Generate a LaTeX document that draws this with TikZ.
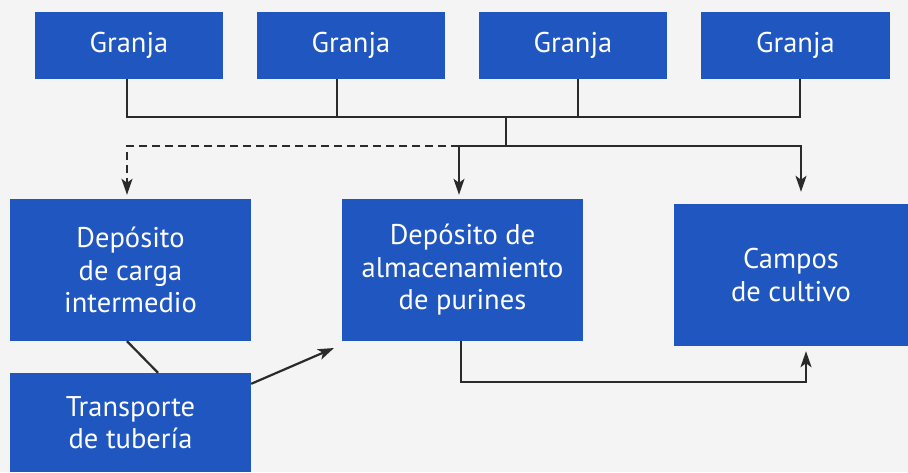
\documentclass[tikz,border=0pt]{standalone}
\usepackage{fontspec}
\setmainfont{PT Sans}
\usetikzlibrary{arrows.meta,calc}
\definecolor{bgc}{HTML}{F4F4F4}
\definecolor{boxblue}{HTML}{1F56C0}
\definecolor{lnc}{HTML}{2A2A2A}
\begin{document}
\begin{tikzpicture}[x=1pt,y=-1pt,
  box/.style 2 args={fill=boxblue, text=white, align=center, inner sep=0pt,
    minimum width=#1, minimum height=#2,
    font=\fontsize{28.5}{32.5}\selectfont},
  conn/.style={draw=lnc, line width=2.2pt},
  arr/.style={conn, -{Stealth[length=16pt,width=11pt,inset=4pt]}}]
\fill[bgc] (0,0) rectangle (908,472);
\useasboundingbox (0,0) rectangle (908,472);

\node[box={188pt}{67pt}] (g1) at (129,45.5) {Granja};
\node[box={188pt}{67pt}] (g2) at (351,45.5) {Granja};
\node[box={188pt}{67pt}] (g3) at (573,45.5) {Granja};
\node[box={189pt}{67pt}] (g4) at (795.5,45.5) {Granja};

\node[box={241pt}{142pt}] (dc) at (130.5,270) {Depósito\\de carga\\intermedio};
\node[box={241pt}{142pt}] (dalm) at (462.5,270) {Depósito de\\almacenamiento\\de purines};
\node[box={234pt}{142pt}] (campos) at (791,275) {Campos\\de cultivo};
\node[box={241pt}{99pt}] (tr) at (130.5,422.5) {Transporte\\de tubería};

\coordinate (j1) at (506,117);
\coordinate (j2) at (506,146);
\coordinate (low) at (0,382);
\coordinate (tip) at (334,348);

% top bus
\draw[conn] ([xshift=-2pt]g1.south) -- ([xshift=-2pt]g1.south |- j1)
  -- ([xshift=4.5pt]g4.south |- j1) -- ([xshift=4.5pt]g4.south);
\draw[conn] ([xshift=-14pt]g2.south) -- ([xshift=-14pt]g2.south |- j1);
\draw[conn] ([xshift=5pt]g3.south) -- ([xshift=5pt]g3.south |- j1);
\draw[conn] (j1) -- (j2);

% distribution
\draw[arr, dash pattern=on 8pt off 5pt, shorten >=4pt]
  ([xshift=-3.5pt]dalm.north |- j2) -| ([xshift=-3.5pt]dc.north);
\draw[arr, shorten >=4pt] ([xshift=-3.5pt]dalm.north |- j2) -- ([xshift=-3.5pt]dalm.north);
\draw[arr, shorten >=12pt] ([xshift=-3.5pt]dalm.north |- j2) -| ([xshift=10pt]campos.north);

% bottom
\draw[conn] ([xshift=-3.5pt]dc.south) -- ([xshift=27.5pt]tr.north);
\draw[arr] ([yshift=-11pt]tr.north east) -- (tip);
\draw[arr, shorten >=5pt] ([xshift=-1.5pt]dalm.south) -- ([xshift=-1.5pt]dalm.south |- low)
  -| ([xshift=15pt]campos.south);
\end{tikzpicture}
\end{document}
